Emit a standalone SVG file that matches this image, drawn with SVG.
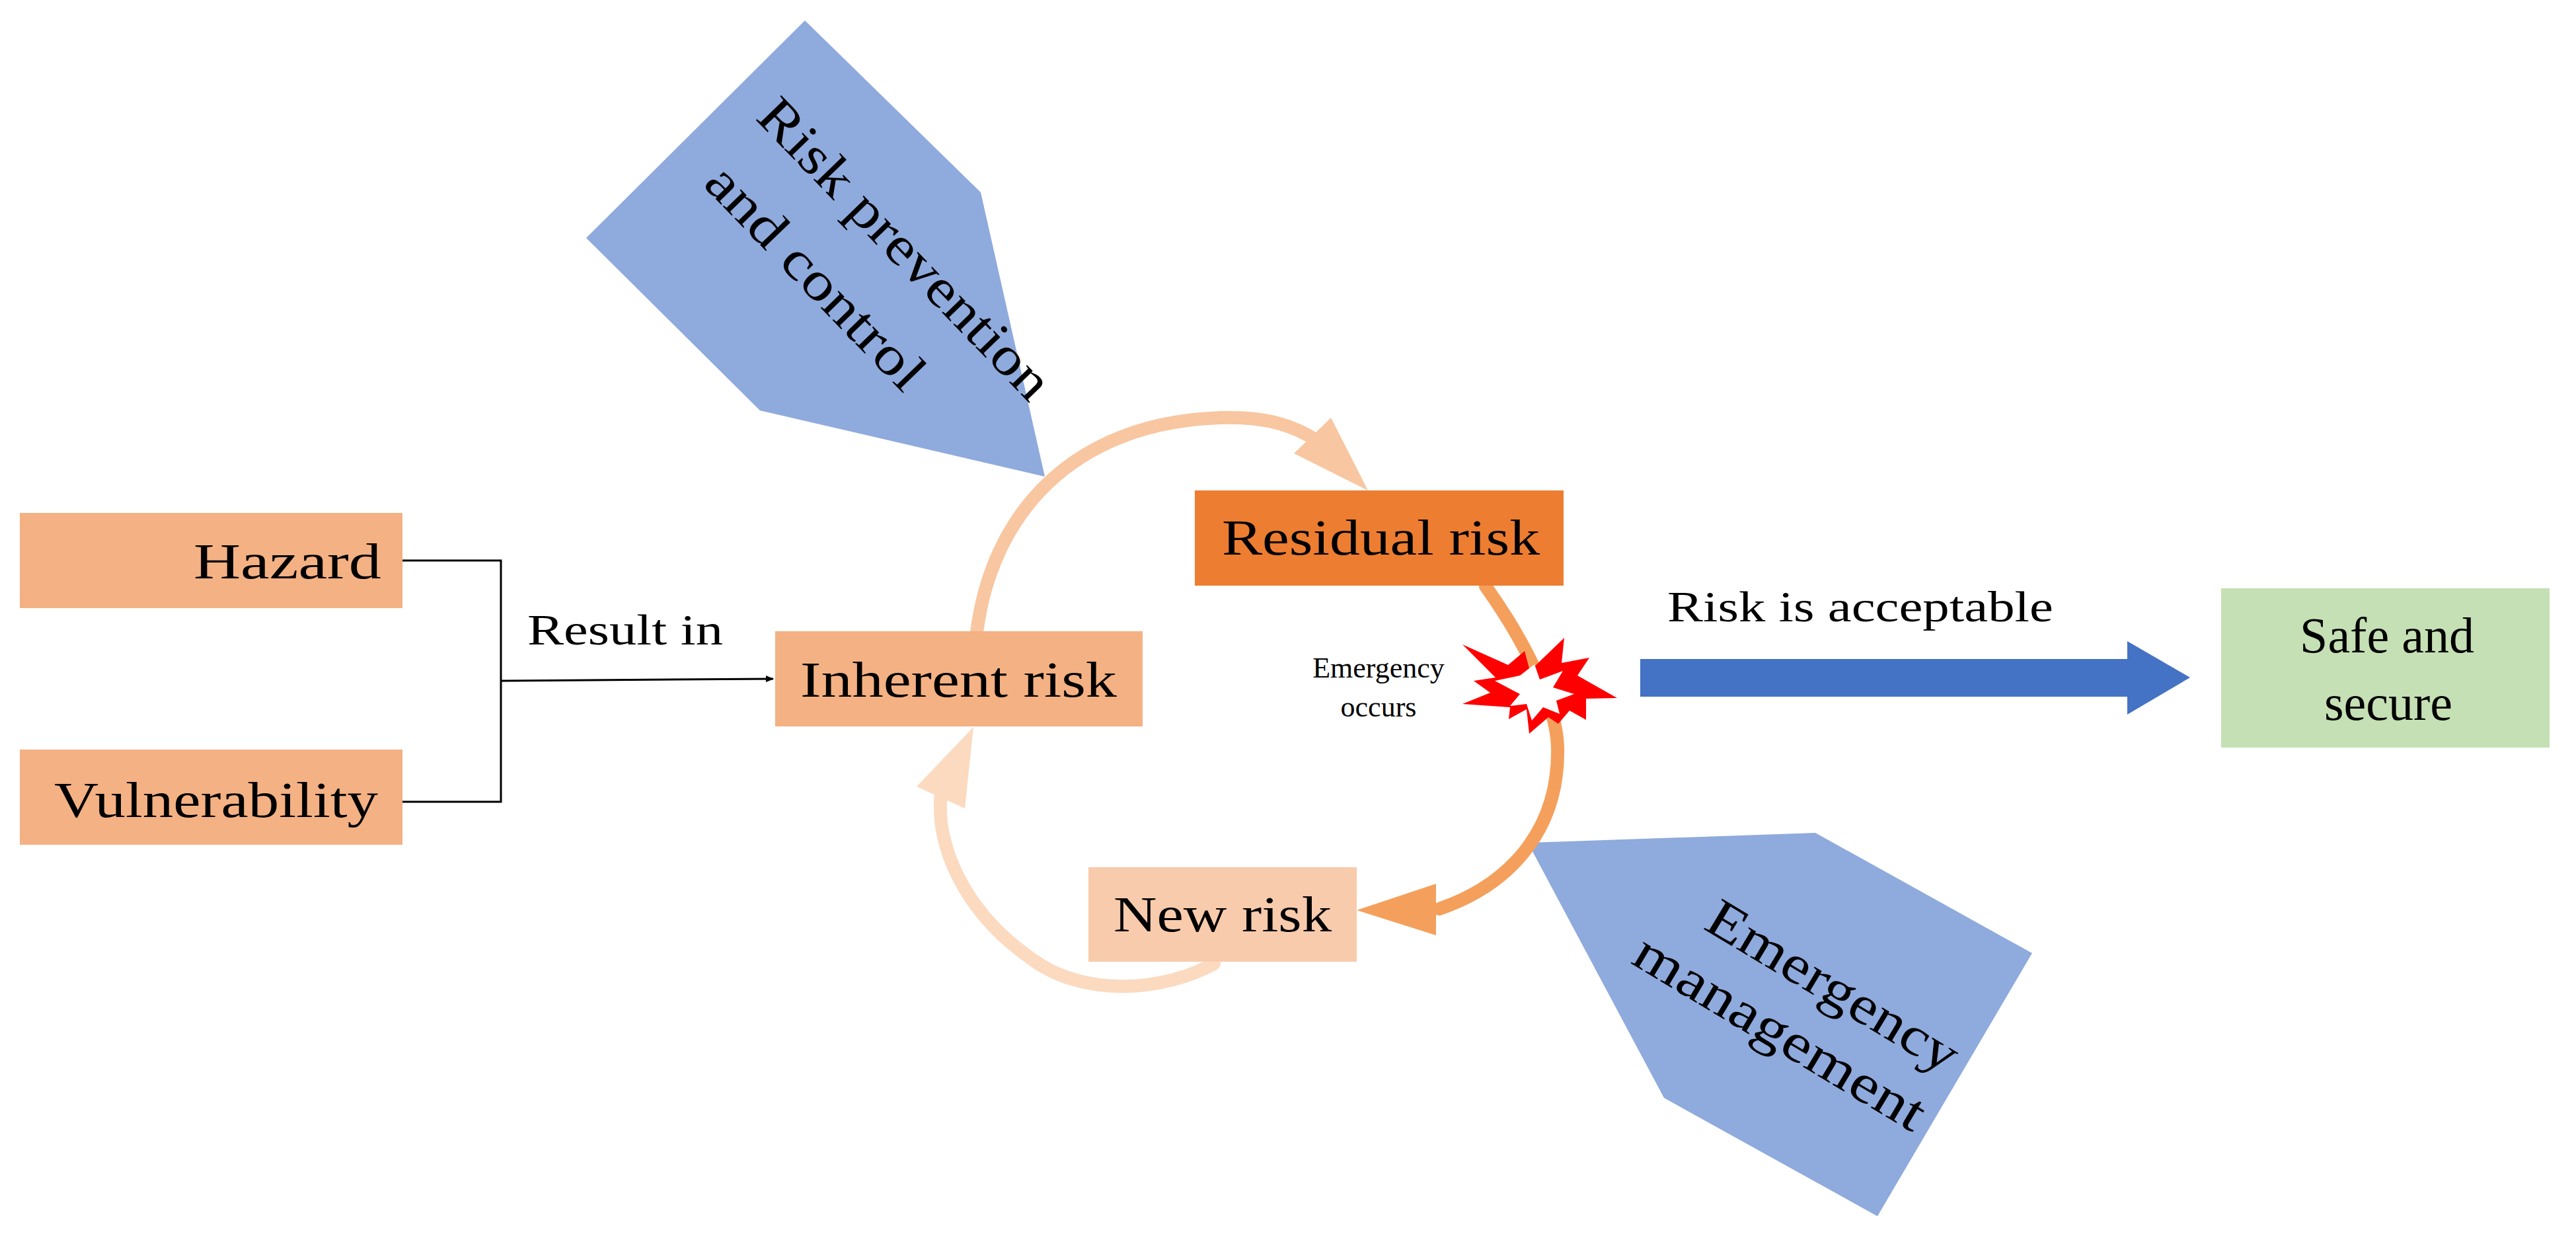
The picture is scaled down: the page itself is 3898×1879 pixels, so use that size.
<svg xmlns="http://www.w3.org/2000/svg" width="3898" height="1879" viewBox="0 0 3898 1879">
<style>
text{font-family:"Liberation Serif","DejaVu Serif",serif;fill:#000}
.lbl{font-size:76px}
.rot{font-size:82px}
</style>
<defs>
<marker id="ah" markerWidth="12" markerHeight="10" refX="11" refY="5" orient="auto" markerUnits="userSpaceOnUse" viewBox="0 0 12 10"><path d="M0,0 L12,5 L0,10 Z" fill="#000"/></marker>
</defs>
<rect width="3898" height="1879" fill="#fff"/>
<g id="risk-prevention">
<polygon points="1218,31 887,360 1150,621 1581,721 1484,291" fill="#8faadc"/>
<text class="rot" text-anchor="middle" transform="translate(1350,395) rotate(46)" textLength="600" lengthAdjust="spacingAndGlyphs">Risk prevention</text>
<text class="rot" text-anchor="middle" transform="translate(1215,438) rotate(46)" textLength="440" lengthAdjust="spacingAndGlyphs">and control</text>
</g>
<g id="emergency-management">
<polygon points="2312,1275 2747,1260 3075,1442 2841,1840 2518,1661" fill="#8faadc"/>
<text class="rot" text-anchor="middle" transform="translate(2760,1515) rotate(31)" textLength="430" lengthAdjust="spacingAndGlyphs">Emergency</text>
<text class="rot" text-anchor="middle" transform="translate(2680,1585) rotate(31)" textLength="500" lengthAdjust="spacingAndGlyphs">management</text>
</g>
<g id="connectors">
<polyline points="609,848 758,848 758,1213 609,1213" fill="none" stroke="#000" stroke-width="3"/>
<line x1="758" y1="1030" x2="1170" y2="1027" stroke="#000" stroke-width="3" marker-end="url(#ah)"/>
<path d="M1478,957 C1500,780 1620,640 1846,632 C1920,630 1960,645 1995,668" fill="none" stroke="#f8c6a0" stroke-width="20" stroke-linecap="round"/>
<polygon points="2070,742 2014,632 1958,686" fill="#f8c6a0"/>
<path d="M2248,887 C2300,960 2355,1060 2357,1130 C2360,1260 2280,1340 2178,1375" fill="none" stroke="#f4a05c" stroke-width="20" stroke-linecap="round"/>
<polygon points="2053,1377 2173,1337 2173,1415" fill="#f4a05c"/>
<path d="M1837,1458 C1760,1500 1640,1510 1560,1450 C1460,1380 1415,1280 1424,1200" fill="none" stroke="#fbdac0" stroke-width="20" stroke-linecap="round"/>
<polygon points="1473,1100 1387,1190 1460,1223" fill="#fbdac0"/>
<polygon points="2482,997 3219,997 3219,970 3314,1025 3219,1081 3219,1054 2482,1054" fill="#4472c4"/>
</g>
<g id="star">
<polygon points="2213,975 2282,1006 2307,985 2315,1015 2367,965 2363,1003 2405,995 2387,1022 2447,1056 2400,1057 2400,1089 2375,1075 2358,1095 2343,1085 2314,1110 2310,1073 2283,1088 2285,1070 2213,1065 2255,1048 2230,1030 2263,1025" fill="#ff0000"/>
<polygon points="2262,1030 2300,1022 2322,1005 2330,1028 2365,1015 2350,1040 2382,1050 2355,1060 2360,1080 2335,1070 2318,1090 2310,1065 2285,1068 2300,1050" fill="#fff"/>
</g>
<g id="hazard"><rect x="30" y="776" width="579" height="144" fill="#f4b183"/><text class="lbl" x="577" y="875" text-anchor="end" textLength="284" lengthAdjust="spacingAndGlyphs">Hazard</text></g>
<g id="vulnerability"><rect x="30" y="1134" width="579" height="144" fill="#f4b183"/><text class="lbl" x="572" y="1236" text-anchor="end" textLength="490" lengthAdjust="spacingAndGlyphs">Vulnerability</text></g>
<g id="result-in"><text class="lbl" x="798" y="975" textLength="296" lengthAdjust="spacingAndGlyphs" style="font-size:66px">Result in</text></g>
<g id="inherent-risk"><rect x="1173" y="955" width="556" height="144" fill="#f4b183"/><text class="lbl" x="1211" y="1054" textLength="479" lengthAdjust="spacingAndGlyphs">Inherent risk</text></g>
<g id="residual-risk"><rect x="1808" y="742" width="558" height="144" fill="#ed7d31"/><text class="lbl" x="1849" y="839" textLength="481" lengthAdjust="spacingAndGlyphs">Residual risk</text></g>
<g id="new-risk"><rect x="1647" y="1312" width="406" height="143" fill="#f8cbad"/><text class="lbl" x="1685" y="1409" textLength="330" lengthAdjust="spacingAndGlyphs">New risk</text></g>
<g id="emergency-occurs"><text x="2086" y="1025" text-anchor="middle" style="font-size:44px">Emergency</text><text x="2086" y="1084" text-anchor="middle" style="font-size:44px">occurs</text></g>
<g id="risk-acceptable"><text class="lbl" x="2523" y="940" textLength="584" lengthAdjust="spacingAndGlyphs" style="font-size:66px">Risk is acceptable</text></g>
<g id="safe-secure"><rect x="3361" y="890" width="497" height="241" fill="#c5e0b4"/><text class="lbl" x="3612" y="987" text-anchor="middle">Safe and</text><text class="lbl" x="3614" y="1089" text-anchor="middle">secure</text></g>
</svg>
